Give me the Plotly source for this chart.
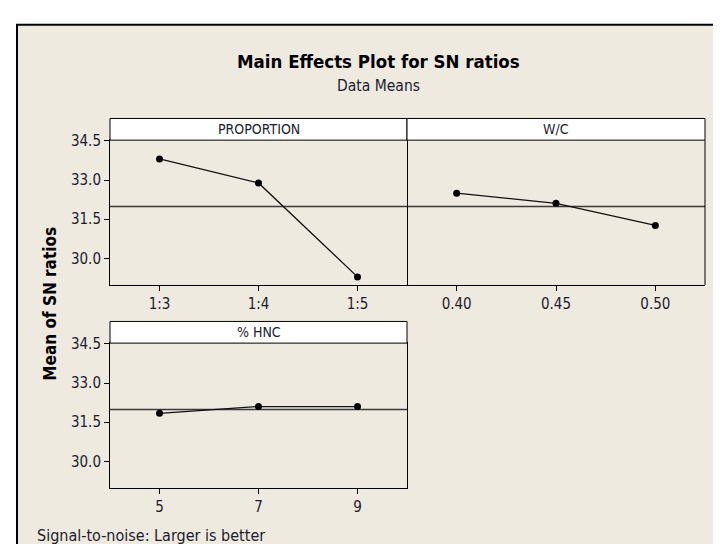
import plotly.graph_objects as go

# ---- data ----
proportion_levels = ["1:3", "1:4", "1:5"]
proportion_sn = [33.81, 32.89, 29.29]
wc_levels = ["0.40", "0.45", "0.50"]
wc_sn = [32.50, 32.11, 31.26]
hnc_levels = ["5", "7", "9"]
hnc_sn = [31.84, 32.10, 32.10]
panel_titles = ["PROPORTION", "W/C", "% HNC"]
y_ticks = [30.0, 31.5, 33.0, 34.5]

W, H = 721, 544
def px(x):
    return x / W
def py(y):
    return 1 - y / H

all_vals = proportion_sn + wc_sn + hnc_sn
grand_mean = sum(all_vals) / len(all_vals)

BEIGE = "#EEEAE0"
TXT = "#1c1c2c"
FONT = "DejaVu Sans Condensed, Liberation Sans Narrow, Liberation Sans, Arial"

fig = go.Figure()

panels = [
    (proportion_levels, proportion_sn, "x", "y"),
    (wc_levels, wc_sn, "x2", "y2"),
    (hnc_levels, hnc_sn, "x3", "y3"),
]
for levels, vals, xa, ya in panels:
    fig.add_trace(go.Scatter(
        x=list(range(1, len(levels) + 1)), y=vals, mode="lines+markers",
        line=dict(color="#111111", width=1.3),
        marker=dict(color="black", size=7, symbol="circle"),
        xaxis=xa, yaxis=ya, showlegend=False, hoverinfo="skip"))

yr = [28.98, 34.53]
xr = [0.5, 3.5]
common_x = dict(range=xr, showline=True, linecolor="black", linewidth=1, mirror=True,
                ticks="outside", ticklen=5, tickcolor="black", showgrid=False,
                zeroline=False, tickfont=dict(size=15, color=TXT, family=FONT),
                tickvals=[1, 2, 3])
common_y = dict(range=yr, showline=True, linecolor="black", linewidth=1, mirror=True,
                ticks="outside", ticklen=5, tickcolor="black", showgrid=False,
                zeroline=False, tickfont=dict(size=15, color=TXT, family=FONT),
                tickvals=y_ticks, ticktext=[f"{v:.1f}" for v in y_ticks])

fig.update_layout(
    width=W, height=H,
    margin=dict(l=0, r=0, t=0, b=0),
    paper_bgcolor="white",
    plot_bgcolor="white",
    font=dict(family=FONT, color=TXT),
    xaxis=dict(domain=[px(102), px(399)], anchor="y", ticktext=proportion_levels, **common_x),
    yaxis=dict(domain=[py(273), py(126)], anchor="x", **common_y),
    xaxis2=dict(domain=[px(399), px(697)], anchor="y2", ticktext=wc_levels, **common_x),
    yaxis2=dict(domain=[py(273), py(126)], anchor="x2",
                **{**common_y, "showticklabels": False, "ticks": "", "showline": False}),
    xaxis3=dict(domain=[px(102), px(399)], anchor="y3", ticktext=hnc_levels, **common_x),
    yaxis3=dict(domain=[py(479), py(332)], anchor="x3", **common_y),
)

shapes = []
# outer frame
shapes.append(dict(type="rect", xref="paper", yref="paper", x0=px(9), x1=px(740),
                   y0=py(570), y1=py(9), fillcolor=BEIGE,
                   line=dict(color="black", width=2), layer="below"))
# mean lines
for xa, ya in [("x", "y"), ("x2", "y2"), ("x3", "y3")]:
    shapes.append(dict(type="line", xref=f"{xa} domain", yref=ya, x0=0, x1=1,
                       y0=grand_mean, y1=grand_mean,
                       line=dict(color="#3a3a3a", width=1.4), layer="below"))
# right border of panel 2
shapes.append(dict(type="line", xref="x2 domain", yref="y2 domain", x0=1, x1=1, y0=0, y1=1,
                   line=dict(color="black", width=1)))
# strips
strips = [(102, 399, 104, 126), (399, 697, 104, 126), (102, 399, 310, 332)]
for (x0, x1, y0, y1) in strips:
    shapes.append(dict(type="rect", xref="paper", yref="paper", x0=px(x0), x1=px(x1),
                       y0=py(y1), y1=py(y0), fillcolor="white",
                       line=dict(color="black", width=1)))
fig.update_layout(shapes=shapes)

annotations = []
for (x0, x1, y0, y1), t in zip(strips, panel_titles):
    annotations.append(dict(text=t, xref="paper", yref="paper", x=px((x0 + x1) / 2),
                            y=py((y0 + y1) / 2), showarrow=False,
                            xanchor="center", yanchor="middle",
                            font=dict(size=14, color=TXT, family=FONT)))
annotations.append(dict(text="<b>Main Effects Plot for SN ratios</b>", xref="paper", yref="paper",
                        x=px(370), y=py(46), showarrow=False, xanchor="center", yanchor="middle",
                        font=dict(size=18.5, color="black", family=FONT)))
annotations.append(dict(text="Data Means", xref="paper", yref="paper",
                        x=px(370), y=py(71), showarrow=False, xanchor="center", yanchor="middle",
                        font=dict(size=15.5, color=TXT, family=FONT)))
annotations.append(dict(text="<b>Mean of SN ratios</b>", xref="paper", yref="paper",
                        x=px(42), y=py(292), showarrow=False, textangle=-90,
                        xanchor="center", yanchor="middle",
                        font=dict(size=17, color="black", family=FONT)))
annotations.append(dict(text="Signal-to-noise: Larger is better", xref="paper", yref="paper",
                        x=px(27), y=py(527), showarrow=False, xanchor="left", yanchor="middle",
                        font=dict(size=16, color=TXT, family=FONT)))
fig.update_layout(annotations=annotations)

fig.write_html("out.html")
